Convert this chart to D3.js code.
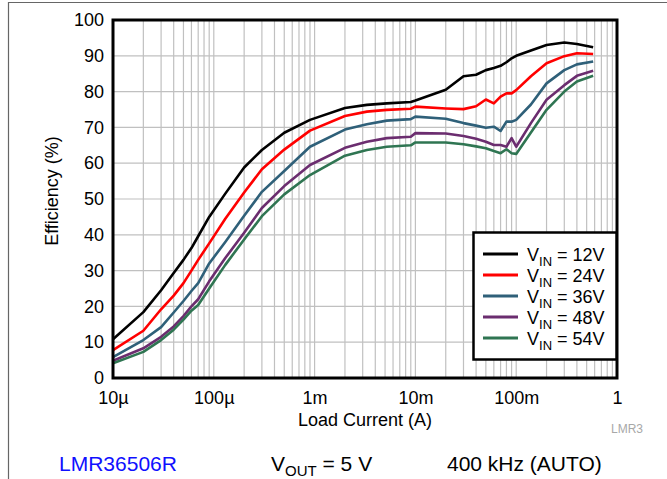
<!DOCTYPE html>
<html><head><meta charset="utf-8">
<script src="https://cdn.jsdelivr.net/npm/d3@7"></script>
<style>body{margin:0;background:#fff}svg{display:block;font-family:"Liberation Sans",Arial,sans-serif}</style>
</head><body><svg id="c" width="667" height="479"></svg>
<script>
const loads = [1e-5,2e-5,3e-5,4e-5,5e-5,6e-5,7e-5,9e-5,1.3e-4,2e-4,3e-4,5e-4,9e-4,2e-3,3.3e-3,5.2e-3,9e-3,1e-2,2e-2,3e-2,4e-2,5e-2,6e-2,7e-2,8e-2,9e-2,1e-1,1.4e-1,2e-1,3e-1,4e-1,0.58];
const vin12 = [10.8,18.4,24.5,29.3,33.0,36.3,39.6,45.0,51.5,58.8,63.7,68.5,72.1,75.4,76.3,76.7,77.1,77.5,80.5,84.3,84.7,86.0,86.6,87.2,88.2,89.3,90.0,91.5,93.0,93.7,93.3,92.4];
const vin24 = [7.8,13.2,19.2,23.0,26.5,30.0,33.0,37.6,44.5,51.8,58.3,63.8,69.1,73.2,74.4,74.9,75.2,75.8,75.3,75.1,75.9,77.8,76.7,78.6,79.5,79.5,80.4,84.3,87.9,89.9,90.7,90.5];
const vin36 = [5.8,10.6,14.2,18.3,21.5,24.3,26.5,32.0,38.0,45.3,52.0,57.8,64.6,69.4,70.9,71.9,72.3,73.0,72.4,71.2,70.5,69.9,70.2,69.0,71.6,71.6,72.1,76.4,82.3,86.0,87.6,88.4];
const vin48 = [4.8,8.3,11.5,14.4,17.3,20.0,22.0,27.0,33.5,40.6,47.5,53.6,59.5,64.3,66.0,67.0,67.4,68.4,68.3,67.6,66.8,66.0,65.1,65.1,64.6,67.0,64.6,71.2,77.7,81.8,84.4,85.8];
const vin54 = [4.1,7.3,10.6,13.5,16.3,18.8,20.4,25.0,31.6,38.7,45.2,51.3,56.7,62.1,63.7,64.6,65.0,65.8,65.8,65.3,64.7,64.2,63.4,62.8,63.9,62.8,62.6,68.6,74.9,80.0,82.8,84.4];
const seriesNames = ["12V","24V","36V","48V","54V"];
const seriesColors = ["#000000","#ff0000","#2f6079","#6b2d6f","#2f7552"];
const xTickValues = [1e-5,1e-4,1e-3,1e-2,1e-1,1];
const xTickLabels = ["10\u00b5","100\u00b5","1m","10m","100m","1"];
const yTickValues = [0,10,20,30,40,50,60,70,80,90,100];

const series = [vin12,vin24,vin36,vin48,vin54];
const svg = d3.select("#c");
const L=113,R=617,T=20,B=378;
const x = d3.scaleLog().domain([1e-5,1]).range([L,R]);
const y = d3.scaleLinear().domain([0,100]).range([B,T]);

// outer border lines
svg.append("line").attr("x1",8).attr("x2",667).attr("y1",2.5).attr("y2",2.5).attr("stroke","#666").attr("stroke-width",1.2);
svg.append("line").attr("x1",8.5).attr("x2",8.5).attr("y1",2).attr("y2",479).attr("stroke","#666").attr("stroke-width",1.2);

// grid
const minor = [];
for (let e=-5;e<0;e++) for (let m=1;m<=9;m++) minor.push(m*Math.pow(10,e));
minor.push(1);
svg.append("g").selectAll("line").data(minor).join("line")
  .attr("x1",d=>x(d)).attr("x2",d=>x(d)).attr("y1",T).attr("y2",B)
  .attr("stroke","#c0c0c0").attr("stroke-width",1.2);
svg.append("g").selectAll("line").data(yTickValues).join("line")
  .attr("x1",L).attr("x2",R).attr("y1",d=>y(d)).attr("y2",d=>y(d))
  .attr("stroke","#c0c0c0").attr("stroke-width",1.2);

// axes (labels only)
const yAxis = d3.axisLeft(y).tickValues(yTickValues).tickSize(0).tickPadding(9);
const gy = svg.append("g").attr("transform",`translate(${L},0)`).call(yAxis);
gy.select(".domain").remove();
gy.selectAll("text").attr("font-size",18).attr("fill","#000").attr("font-family","Liberation Sans, Arial, sans-serif");
const xAxis = d3.axisBottom(x).tickValues(xTickValues).tickFormat((d,i)=>xTickLabels[i]).tickSize(0).tickPadding(13);
const gx = svg.append("g").attr("transform",`translate(0,${B})`).call(xAxis);
gx.select(".domain").remove();
gx.selectAll("text").attr("font-size",18).attr("fill","#000").attr("font-family","Liberation Sans, Arial, sans-serif");

// series
const line = d3.line().x((d,i)=>x(loads[i])).y(d=>y(d));
series.forEach((s,k)=>{
  svg.append("path").datum(s).attr("d",line).attr("fill","none")
    .attr("stroke",seriesColors[k]).attr("stroke-width",2.6).attr("stroke-linejoin","round");
});

// frame
svg.append("rect").attr("x",L).attr("y",T).attr("width",R-L).attr("height",B-T)
  .attr("fill","none").attr("stroke","#000").attr("stroke-width",3);

// axis titles
svg.append("text").attr("x",365).attr("y",426).attr("text-anchor","middle").attr("font-size",18).text("Load Current (A)");
svg.append("text").attr("transform","translate(58,191) rotate(-90)").attr("text-anchor","middle").attr("font-size",18).text("Efficiency (%)");

// legend
const lg = svg.append("g");
lg.append("rect").attr("x",473.5).attr("y",232.5).attr("width",143).attr("height",127).attr("fill","#fff").attr("stroke","#000").attr("stroke-width",2.5);
seriesNames.forEach((n,k)=>{
  const cy = 254 + k*21;
  lg.append("line").attr("x1",483).attr("x2",518).attr("y1",cy).attr("y2",cy).attr("stroke",seriesColors[k]).attr("stroke-width",2.8);
  const t = lg.append("text").attr("x",527).attr("y",cy+6.5).attr("font-size",18);
  t.append("tspan").text("V");
  t.append("tspan").attr("font-size",13).attr("dy",5).text("IN");
  t.append("tspan").attr("dy",-5).text(" = "+n);
});

// footer
svg.append("text").attr("x",643).attr("y",433).attr("text-anchor","end").attr("font-size",12).attr("fill","#a8a8a8").text("LMR3");
svg.append("text").attr("x",59).attr("y",471).attr("font-size",21).attr("fill","#1010ff").text("LMR36506R");
const vt = svg.append("text").attr("x",271).attr("y",471).attr("font-size",21);
vt.append("tspan").text("V");
vt.append("tspan").attr("font-size",15).attr("dy",5).text("OUT");
vt.append("tspan").attr("dy",-5).text(" = 5 V");
svg.append("text").attr("x",447).attr("y",471).attr("font-size",21).text("400 kHz (AUTO)");
</script></body></html>
